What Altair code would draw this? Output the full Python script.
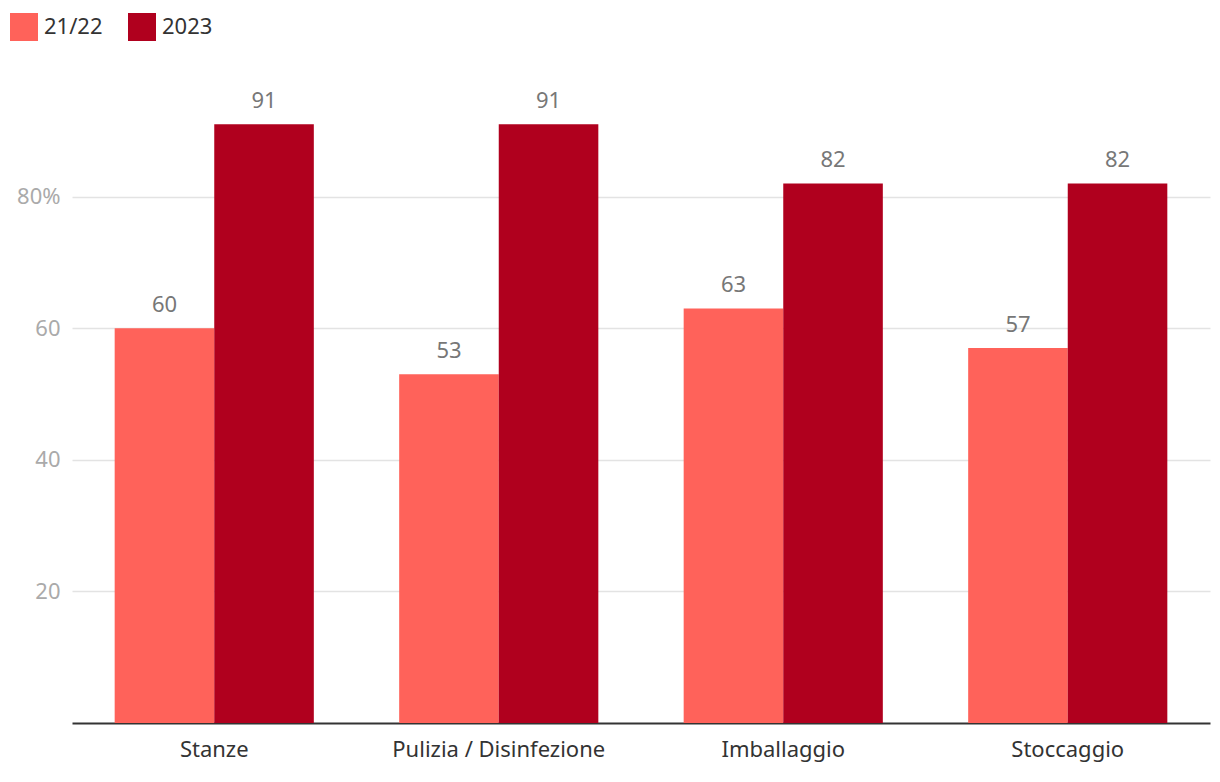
import altair as alt
import pandas as pd

categories = ["Stanze", "Pulizia / Disinfezione", "Imballaggio", "Stoccaggio"]
series = ["21/22", "2023"]
values_2122 = [60, 53, 63, 57]
values_2023 = [91, 91, 82, 82]
colors = ["#FF625A", "#B0001E"]

rows = []
for c, a, b in zip(categories, values_2122, values_2023):
    rows.append({"cat": c, "serie": series[0], "val": a})
    rows.append({"cat": c, "serie": series[1], "val": b})
df = pd.DataFrame(rows)

FONT = "Noto Sans"
FS = 22

x = alt.X("cat:N", sort=categories, title=None,
          scale=alt.Scale(paddingInner=0.3, paddingOuter=0.15),
          axis=alt.Axis(labelAngle=0, labelFontSize=FS, labelColor="#333333", labelFont=FONT,
                        labelLimit=0,
                        ticks=False, domain=True, domainColor="#333333", domainWidth=2,
                        labelPadding=16))
y = alt.Y("val:Q", title=None,
          scale=alt.Scale(domain=[0, 100], nice=False),
          axis=alt.Axis(values=[20, 40, 60, 80], labelFontSize=FS, labelColor="#AAAAAA", labelFont=FONT,
                        ticks=False, domain=False, gridColor="#E3E3E3", gridWidth=1.5,
                        labelPadding=12,
                        labelExpr="datum.value == 80 ? '80%' : datum.label"))
xo = alt.XOffset("serie:N", sort=series)

base = alt.Chart(df)
bars = base.mark_bar().encode(
    x=x, y=y, xOffset=xo,
    color=alt.Color("serie:N", sort=series,
                    scale=alt.Scale(domain=series, range=colors),
                    legend=alt.Legend(title=None, orient="none", direction="horizontal",
                                      legendX=-62, legendY=-52,
                                      symbolType="square", symbolSize=784, symbolStrokeWidth=0,
                                      symbolOpacity=1,
                                      labelFontSize=FS, labelColor="#333333", labelFont=FONT,
                                      columnPadding=25, labelOffset=6))
)
labels = base.mark_text(baseline="bottom", dy=-11, fontSize=FS, color="#777777", font=FONT).encode(
    x=x, y=y, xOffset=xo, text=alt.Text("val:Q")
)

chart = (bars + labels).properties(
    width=1138, height=658,
    autosize=alt.AutoSizeParams(type="none"),
    padding={"left": 64, "top": 57, "right": 2, "bottom": 60},
).configure_view(stroke=None).configure_legend(symbolFillColor=None)

chart.save("out.html", embed_options={"renderer": "svg", "actions": False})
